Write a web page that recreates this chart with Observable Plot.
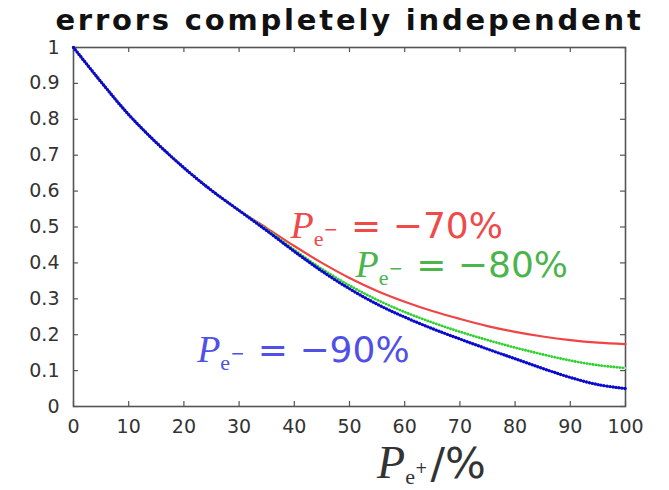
<!DOCTYPE html>
<html>
<head>
<meta charset="utf-8">
<script src="https://cdn.jsdelivr.net/npm/d3@7"></script>
<script src="https://cdn.jsdelivr.net/npm/@observablehq/plot@0.6"></script>
<style>
  body { margin: 0; background: #fff; }
  #chart { width: 669px; height: 490px; }
  #chart svg { display: block; background: #fff; }
</style>
</head>
<body>
<div id="chart"></div>
<script>
// Positron polarisation P_e+ in percent
const positronPol = [0, 5, 10, 15, 20, 25, 30, 35, 40, 45, 50, 55, 60, 65, 70, 75, 80, 85, 90, 95, 100];

// Relative uncertainty for each electron polarisation
const electron70 = [1.000, 0.904, 0.813, 0.735, 0.665, 0.602, 0.546, 0.497, 0.447, 0.400, 0.358, 0.322, 0.292, 0.266, 0.244, 0.224, 0.208, 0.195, 0.185, 0.178, 0.174];
const electron80 = [1.000, 0.904, 0.813, 0.735, 0.665, 0.602, 0.546, 0.493, 0.436, 0.383, 0.337, 0.297, 0.263, 0.234, 0.208, 0.185, 0.164, 0.145, 0.128, 0.115, 0.107];
const electron90 = [1.000, 0.904, 0.813, 0.735, 0.665, 0.602, 0.546, 0.490, 0.432, 0.377, 0.328, 0.285, 0.249, 0.217, 0.188, 0.160, 0.133, 0.106, 0.081, 0.061, 0.050];

const seriesLabels = ["−70%", "−80%", "−90%"];

// Tick values
const xTicks = [0, 10, 20, 30, 40, 50, 60, 70, 80, 90, 100];
const yTicks = [0, 0.1, 0.2, 0.3, 0.4, 0.5, 0.6, 0.7, 0.8, 0.9, 1];

const title = "errors completely independent";

const pts = arr => arr.map((v, i) => ({x: positronPol[i], y: v}));

// where each curve label sits (data coordinates, text baseline)
const labelSpots = [
  {x: 39.3, y: 0.469, color: "#ee4a4a"},
  {x: 51.1, y: 0.361, color: "#4cb44c"},
  {x: 22.4, y: 0.125, color: "#5050e6"}
];
const labelData = seriesLabels.map((s, i) => ({...labelSpots[i], text: `P|e−| = ${s}`}));

const plot = Plot.plot({
  width: 669,
  height: 490,
  marginLeft: 73,
  marginRight: 44,
  marginTop: 47,
  marginBottom: 84,
  style: {fontFamily: "'DejaVu Sans', sans-serif", color: "#333", background: "#fff"},
  x: {domain: [0, 100]},
  y: {domain: [0, 1]},
  marks: [
    // inward ticks on all four sides
    Plot.ruleX(xTicks, {x: d => d, y1: 0, y2: 0.014, stroke: "#555", strokeWidth: 1.2}),
    Plot.ruleX(xTicks, {x: d => d, y1: 0.986, y2: 1, stroke: "#555", strokeWidth: 1.2}),
    Plot.ruleY(yTicks, {y: d => d, x1: 0, x2: 0.9, stroke: "#555", strokeWidth: 1.2}),
    Plot.ruleY(yTicks, {y: d => d, x1: 99.1, x2: 100, stroke: "#555", strokeWidth: 1.2}),
    Plot.frame({stroke: "#555", strokeWidth: 1.6}),
    Plot.axisX({ticks: xTicks, tickSize: 0, tickPadding: 13, fontSize: 19, label: null, tickFormat: d => String(d)}),
    Plot.axisY({ticks: yTicks, tickSize: 0, tickPadding: 14, fontSize: 19, label: null, tickFormat: d => String(d)}),

    // curves: red solid, green and blue beaded
    Plot.line(pts(electron70), {x: "x", y: "y", stroke: "#f04444", strokeWidth: 2.2, curve: "catmull-rom"}),
    Plot.line(pts(electron80), {x: "x", y: "y", stroke: "#9af29a", strokeWidth: 1.6, curve: "catmull-rom"}),
    Plot.line(pts(electron80), {x: "x", y: "y", stroke: "#2fcf2f", strokeWidth: 2.8, strokeDasharray: "0,3", strokeLinecap: "round", curve: "catmull-rom"}),
    Plot.line(pts(electron90), {x: "x", y: "y", stroke: "#7a7af8", strokeWidth: 1.6, curve: "catmull-rom"}),
    Plot.line(pts(electron90), {x: "x", y: "y", stroke: "#0a0acc", strokeWidth: 3.4, strokeDasharray: "0,3", strokeLinecap: "round", curve: "catmull-rom"}),

    // curve labels
    Plot.text(labelData, {x: "x", y: "y", text: "text", fill: "color", textAnchor: "start", lineAnchor: "bottom", fontSize: 36}),

    // title and x-axis label
    Plot.text([title], {frameAnchor: "top", lineAnchor: "bottom", dy: -18, fontSize: 29, fontWeight: "bold", fill: "#111"}),
    Plot.text(["P|e+|/%"], {x: 55, y: 0, textAnchor: "start", lineAnchor: "bottom", dy: 71, fontSize: 43, fill: "#333"})
  ]
});

document.getElementById("chart").appendChild(plot);

const svg = d3.select(plot);
// title letter spacing
svg.selectAll("text").filter(function() { return this.textContent === title; })
  .attr("letter-spacing", "2.8px");

// rich labels: italic serif P with subscript, then the rest in sans
svg.selectAll("text").each(function() {
  const s = this.textContent;
  if (!s.includes("|")) return;
  const [main, sub, rest] = s.split("|");
  const isAxis = rest.startsWith("/");
  const el = d3.select(this).text(null);
  el.append("tspan")
    .attr("font-family", "'Liberation Serif', serif").attr("font-style", "italic")
    .attr("font-size", isAxis ? 46 : 38).text(main);
  el.append("tspan")
    .attr("font-family", "'Liberation Serif', serif")
    .attr("font-size", 22).attr("dy", isAxis ? 6 : 8).text(sub[0]);
  el.append("tspan")
    .attr("font-family", "'DejaVu Sans', sans-serif")
    .attr("font-size", isAxis ? 15 : 17).attr("dy", -11).text(sub.slice(1));
  el.append("tspan")
    .attr("dy", isAxis ? 5 : 3).attr("dx", isAxis ? 3 : 2).text(rest);
});
</script>
</body>
</html>
